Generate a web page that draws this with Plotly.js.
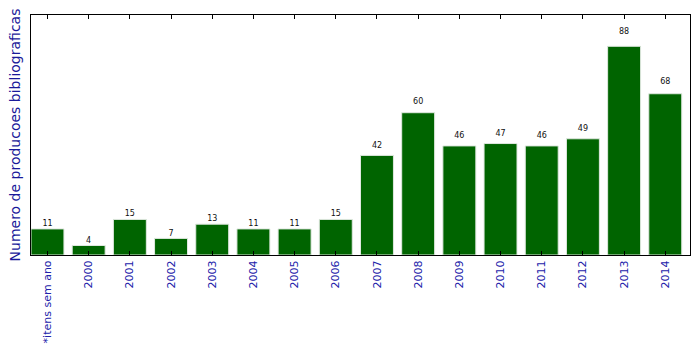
<!DOCTYPE html>
<html>
<head>
<meta charset="utf-8">
<script src="https://cdn.plot.ly/plotly-3.0.1.min.js"></script>
<style>html,body{margin:0;padding:0;background:#fff;}#chart{width:699px;height:354px;}</style>
</head>
<body>
<div id="chart"></div>
<script>
var categories = ["*itens sem ano","2000","2001","2002","2003","2004","2005","2006","2007","2008","2009","2010","2011","2012","2013","2014"];
var counts = [11, 4, 15, 7, 13, 11, 11, 15, 42, 60, 46, 47, 46, 49, 88, 68];
var yTitle = "Numero de producoes bibliograficas";

var xs = categories.map(function(c, i){ return i; });
var labelY = counts.map(function(v){ return v * 1.05; });

var bars = {
  type: 'bar',
  x: xs,
  y: counts,
  width: 0.8,
  marker: {color: '#006400', line: {color: '#dfe8df', width: 1}},
  hoverinfo: 'none'
};
var labels = {
  type: 'scatter',
  mode: 'text',
  x: xs,
  y: labelY,
  text: counts.map(String),
  textposition: 'top center',
  textfont: {family: 'DejaVu Sans', size: 8, color: '#111'},
  hoverinfo: 'none',
  cliponaxis: false
};

var layout = {
  width: 699, height: 354,
  margin: {l: 31, r: 9, t: 15, b: 99},
  paper_bgcolor: '#fff', plot_bgcolor: '#fff',
  showlegend: false,
  xaxis: {
    range: [-0.4, 15.6],
    tickmode: 'array', tickvals: xs, ticktext: categories,
    tickangle: -90,
    ticks: 'inside', ticklen: 4, tickcolor: '#000', tickwidth: 1,
    showline: true, linecolor: '#000', linewidth: 1, mirror: 'ticks',
    showgrid: false, zeroline: false,
    tickfont: {family: 'DejaVu Sans', size: 11, color: '#2222aa'}
  },
  yaxis: {
    range: [0, 101.2],
    showticklabels: false, ticks: '',
    showline: true, linecolor: '#000', linewidth: 1, mirror: true,
    showgrid: false, zeroline: false,
    title: {text: yTitle, standoff: 6, font: {family: 'DejaVu Sans', size: 14, color: '#1a1a9a'}}
  }
};

Plotly.newPlot('chart', [bars, labels], layout, {staticPlot: true, displayModeBar: false});
</script>
</body>
</html>
